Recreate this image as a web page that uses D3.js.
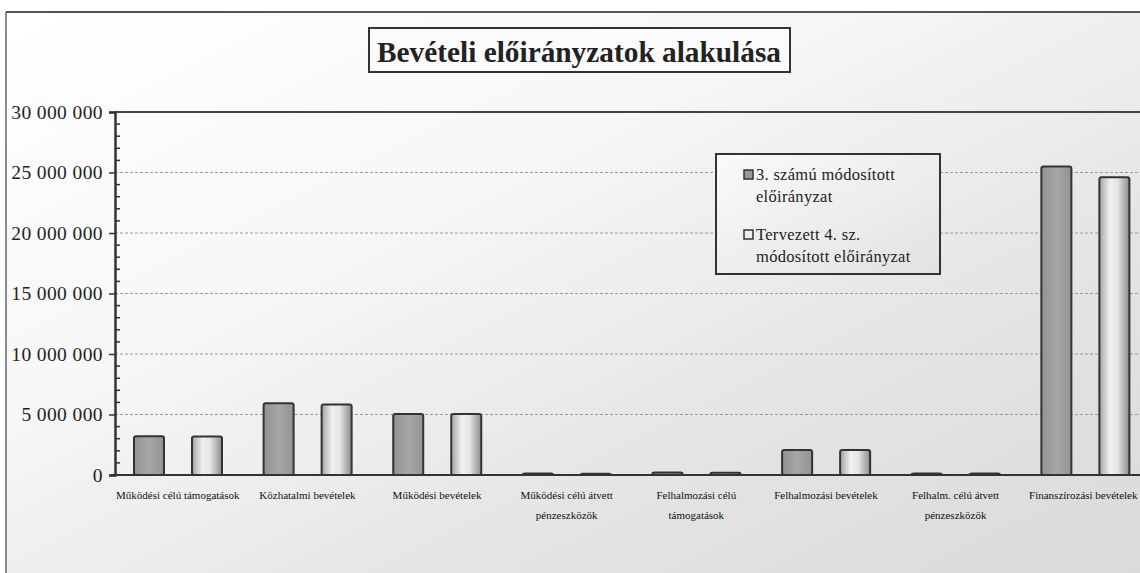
<!DOCTYPE html>
<html><head><meta charset="utf-8">
<script src="https://cdn.jsdelivr.net/npm/d3@7"></script>
<style>html,body{margin:0;padding:0;background:#fff;overflow:hidden;}svg{display:block;}</style>
</head><body>
<script>
const categories = [
  "Működési célú támogatások",
  "Közhatalmi bevételek",
  "Működési bevételek",
  "Működési célú átvett\npénzeszközök",
  "Felhalmozási célú\ntámogatások",
  "Felhalmozási bevételek",
  "Felhalm. célú átvett\npénzeszközök",
  "Finanszírozási bevételek"
];
const seriesNames = ["3. számú módosított\nelőirányzat", "Tervezett 4. sz.\nmódosított előirányzat"];
const series1 = [3200000, 5920000, 5040000, 120000, 200000, 2070000, 120000, 25500000];
const series2 = [3180000, 5820000, 5040000, 100000, 180000, 2070000, 120000, 24600000];
const yTicks = [0, 5000000, 10000000, 15000000, 20000000, 25000000, 30000000];
const title = "Bevételi előirányzatok alakulása";

const W = 1140, H = 573;
const svg = d3.select("body").append("svg").attr("width", W).attr("height", H);
const defs = svg.append("defs");

const bg = defs.append("linearGradient").attr("id","bg").attr("x1","0").attr("y1","0").attr("x2","1").attr("y2","1");
bg.append("stop").attr("offset","0%").attr("stop-color","#ffffff");
bg.append("stop").attr("offset","35%").attr("stop-color","#f7f7f7");
bg.append("stop").attr("offset","70%").attr("stop-color","#e4e4e4");
bg.append("stop").attr("offset","100%").attr("stop-color","#dadada");

const g1 = defs.append("linearGradient").attr("id","s1").attr("x1","0").attr("y1","0").attr("x2","1").attr("y2","0");
g1.append("stop").attr("offset","0%").attr("stop-color","#929292");
g1.append("stop").attr("offset","50%").attr("stop-color","#a6a6a6");
g1.append("stop").attr("offset","100%").attr("stop-color","#939393");

const g2 = defs.append("linearGradient").attr("id","s2").attr("x1","0").attr("y1","0").attr("x2","1").attr("y2","0");
g2.append("stop").attr("offset","0%").attr("stop-color","#a4a4a4");
g2.append("stop").attr("offset","35%").attr("stop-color","#f0f0f0");
g2.append("stop").attr("offset","60%").attr("stop-color","#e6e6e6");
g2.append("stop").attr("offset","100%").attr("stop-color","#8c8c8c");

const lg = defs.append("linearGradient").attr("id","lg").attr("x1","0").attr("y1","0").attr("x2","1").attr("y2","1");
lg.append("stop").attr("offset","0%").attr("stop-color","#fafafa");
lg.append("stop").attr("offset","100%").attr("stop-color","#e2e2e2");

// background + frame
svg.append("rect").attr("x",0).attr("y",0).attr("width",W).attr("height",H).attr("fill","#fff");
svg.append("rect").attr("x",6).attr("y",12).attr("width",W-6).attr("height",H-12).attr("fill","url(#bg)");
svg.append("line").attr("x1",6).attr("x2",W).attr("y1",12).attr("y2",12).attr("stroke","#555").attr("stroke-width",2);
svg.append("line").attr("x1",6).attr("x2",6).attr("y1",12).attr("y2",H).attr("stroke","#666").attr("stroke-width",1.5);

const margin = {left:115, top:112, right:W, bottom:475};
const x = d3.scaleBand().domain(d3.range(categories.length)).range([113, 1150]).paddingInner(0).paddingOuter(0);
const xs = d3.scaleBand().domain([0,1]).range([21, 109]).paddingInner(0.483).paddingOuter(0);
const y = d3.scaleLinear().domain([0, 30000000]).range([475, 112]);

// gridlines
svg.append("g").selectAll("line").data(yTicks.filter(d => d > 0 && d < 30000000)).join("line")
  .attr("x1", margin.left).attr("x2", W).attr("y1", d => y(d)).attr("y2", d => y(d))
  .attr("stroke","#9a9a9a").attr("stroke-width",1).attr("stroke-dasharray","3,2");

// top border of plot
svg.append("line").attr("x1",margin.left).attr("x2",W).attr("y1",y(30000000)).attr("y2",y(30000000)).attr("stroke","#444").attr("stroke-width",2);

// bars
const data = categories.map((c,i) => ({i, vals:[series1[i], series2[i]]}));
const cg = svg.append("g").selectAll("g").data(data).join("g").attr("transform", d => `translate(${x(d.i)},0)`);
cg.selectAll("rect").data(d => d.vals.map((v,k) => ({v,k}))).join("rect")
  .attr("x", d => xs(d.k)).attr("width", xs.bandwidth())
  .attr("y", d => y(d.v)).attr("height", d => y(0) - y(d.v))
  .attr("rx", 2)
  .attr("fill", d => d.k === 0 ? "url(#s1)" : "url(#s2)")
  .attr("stroke","#333").attr("stroke-width",2);

// y axis
const yAxis = d3.axisLeft(y).tickValues(yTicks).tickSize(6).tickPadding(6)
  .tickFormat(d => d3.format(",")(d).replace(/,/g, " "));
const ya = svg.append("g").attr("transform", `translate(${margin.left},0)`).call(yAxis);
ya.select(".domain").attr("stroke","#333").attr("stroke-width",2.5);
ya.selectAll(".tick line").attr("stroke","#333").attr("stroke-width",1.5);
ya.selectAll(".tick text").attr("font-family","'Liberation Serif', 'Times New Roman', serif")
  .attr("font-size",19.5).attr("fill","#222").attr("letter-spacing","0.4");
// minor ticks inside
const minor = d3.range(1000000, 30000000, 1000000).filter(d => d % 5000000 !== 0);
svg.append("g").selectAll("line").data(minor).join("line")
  .attr("x1", margin.left).attr("x2", margin.left + 5)
  .attr("y1", d => y(d)).attr("y2", d => y(d)).attr("stroke","#333").attr("stroke-width",1.5);

// x axis line
svg.append("line").attr("x1", margin.left - 4).attr("x2", W).attr("y1", y(0)).attr("y2", y(0)).attr("stroke","#333").attr("stroke-width",2);

// x labels
const xl = svg.append("g").selectAll("text").data(categories).join("text")
  .attr("x", (d,i) => x(i) + x.bandwidth()/2).attr("y", 499)
  .attr("text-anchor","middle").attr("font-family","'Liberation Serif', 'Times New Roman', serif")
  .attr("font-size",11).attr("fill","#111");
xl.selectAll("tspan").data(d => d.split("\n")).join("tspan")
  .attr("x", function(){ return this.parentNode.getAttribute("x"); })
  .attr("dy", (d,j) => j === 0 ? 0 : 20).text(d => d);
// keep labels inside the picture
xl.each(function(){
  const b = this.getBBox();
  const over = b.x + b.width - (W - 2);
  if (over > 0) {
    const nx = +this.getAttribute("x") - over;
    d3.select(this).attr("x", nx).selectAll("tspan").attr("x", nx);
  }
});

// title
svg.append("rect").attr("x",369).attr("y",28).attr("width",421).attr("height",44)
  .attr("fill","#fbfbfb").attr("stroke","#333").attr("stroke-width",2);
svg.append("text").attr("x",579).attr("y",62).attr("text-anchor","middle")
  .attr("font-family","'Liberation Serif', 'Times New Roman', serif").attr("font-weight","bold")
  .attr("font-size",30).attr("fill","#222")
  .attr("textLength",404).attr("lengthAdjust","spacingAndGlyphs").text(title);

// legend
const leg = svg.append("g");
leg.append("rect").attr("x",716).attr("y",154).attr("width",224).attr("height",120)
  .attr("fill","url(#lg)").attr("stroke","#333").attr("stroke-width",2);
const legY = [180, 240];
seriesNames.forEach((name, k) => {
  leg.append("rect").attr("x",744).attr("y",legY[k]-10).attr("width",9).attr("height",9)
    .attr("fill", k === 0 ? "#9a9a9a" : "#eeeeee").attr("stroke","#333").attr("stroke-width",1.5);
  const t = leg.append("text").attr("x",756).attr("y",legY[k])
    .attr("font-family","'Liberation Serif', 'Times New Roman', serif").attr("font-size",16.5)
    .attr("letter-spacing","0.3").attr("fill","#222");
  name.split("\n").forEach((ln, j) => {
    t.append("tspan").attr("x",756).attr("dy", j === 0 ? 0 : 22).text(ln);
  });
});
</script>
</body></html>
